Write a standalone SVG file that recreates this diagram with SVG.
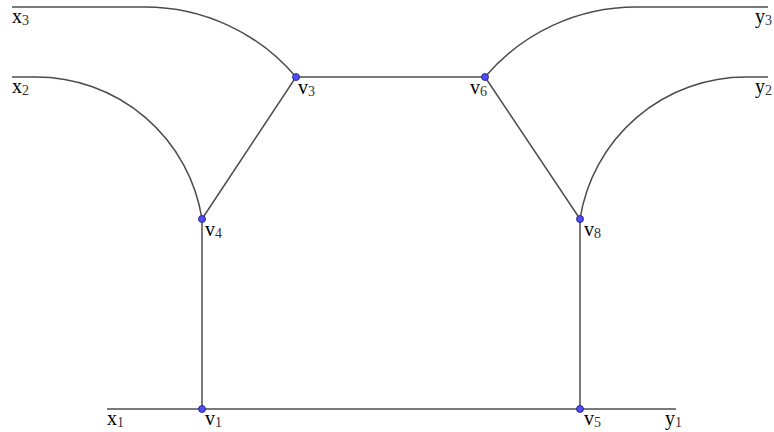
<svg xmlns="http://www.w3.org/2000/svg" width="774" height="432" viewBox="0 0 774 432">
<style>
.e{fill:none;stroke:#4d4d4d;stroke-width:1.5}
.n{fill:#4d4dff;stroke:#1a1a66;stroke-width:0.8}
text{font-family:"Liberation Serif","DejaVu Serif",serif;font-size:20px;fill:#000}
.s{font-size:14px;fill:#333}
</style>
<rect width="774" height="432" fill="#fff"/>
<g id="edges">
<path class="e" d="M12 7 H145 A198 198 0 0 1 296 77"/>
<path class="e" d="M12 77 H36 A168 168 0 0 1 202 219"/>
<path class="e" d="M768 7 H636 A198 198 0 0 0 485 77"/>
<path class="e" d="M768 77 H746 A168 168 0 0 0 580 219"/>
<path class="e" d="M296 77 H485"/>
<path class="e" d="M202 219 L296 77"/>
<path class="e" d="M580 219 L485 77"/>
<path class="e" d="M202 219 V409"/>
<path class="e" d="M580 219 V409"/>
<path class="e" d="M107 409 H676"/>
</g>
<g id="x3"><text x="12" y="23">x<tspan class="s" dy="2">3</tspan></text></g>
<g id="x2"><text x="12" y="93">x<tspan class="s" dy="2">2</tspan></text></g>
<g id="x1"><text x="107" y="425">x<tspan class="s" dy="2">1</tspan></text></g>
<g id="y3"><text x="755" y="23">y<tspan class="s" dy="2">3</tspan></text></g>
<g id="y2"><text x="755" y="93">y<tspan class="s" dy="2">2</tspan></text></g>
<g id="y1"><text x="665" y="425">y<tspan class="s" dy="2">1</tspan></text></g>
<g id="v3"><circle class="n" cx="296" cy="77" r="3.5"/><text x="298" y="94">v<tspan class="s" dy="2">3</tspan></text></g>
<g id="v6"><circle class="n" cx="485" cy="77" r="3.5"/><text x="470" y="94">v<tspan class="s" dy="2">6</tspan></text></g>
<g id="v4"><circle class="n" cx="202" cy="219" r="3.5"/><text x="205" y="236">v<tspan class="s" dy="2">4</tspan></text></g>
<g id="v8"><circle class="n" cx="580" cy="219" r="3.5"/><text x="584" y="236">v<tspan class="s" dy="2">8</tspan></text></g>
<g id="v1"><circle class="n" cx="202" cy="409" r="3.5"/><text x="205" y="425">v<tspan class="s" dy="2">1</tspan></text></g>
<g id="v5"><circle class="n" cx="580" cy="409" r="3.5"/><text x="584" y="425">v<tspan class="s" dy="2">5</tspan></text></g>
</svg>
